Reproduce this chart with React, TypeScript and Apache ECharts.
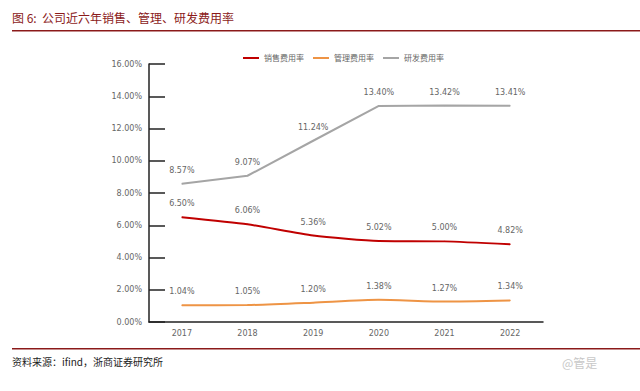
import React, { useEffect, useRef } from "react";
import * as echarts from "echarts";

const years = ["2017", "2018", "2019", "2020", "2021", "2022"];
const salesRate = [6.5, 6.06, 5.36, 5.02, 5.0, 4.82];
const mgmtRate = [1.04, 1.05, 1.2, 1.38, 1.27, 1.34];
const rdRate = [8.57, 9.07, 11.24, 13.4, 13.42, 13.41];
const seriesNames = ["销售费用率", "管理费用率", "研发费用率"];
const seriesColors = ["#C00000", "#EE9445", "#A5A5A5"];
const titleText = "图 6:  公司近六年销售、管理、研发费用率";
const sourceText = "资料来源：ifind，浙商证券研究所";

export default function App() {
  const ref = useRef<HTMLDivElement>(null);
  useEffect(() => {
    if (!ref.current) return;
    const chart = echarts.init(ref.current, null, { renderer: "svg" });
    const fontCJK = "'Noto Sans CJK SC', sans-serif";
    const mk = (i: number, data: number[], smooth: number | boolean) => ({
      name: seriesNames[i],
      type: "line",
      data,
      smooth,
      symbol: "circle",
      symbolSize: 1,
      showSymbol: true,
      lineStyle: { color: seriesColors[i], width: 2 },
      itemStyle: { color: seriesColors[i], borderWidth: 0 },
      label: {
        show: true,
        position: "top",
        distance: 9,
        color: "#666",
        fontSize: 8,
        fontFamily: "'DejaVu Sans', sans-serif",
        formatter: (p: any) => p.value.toFixed(2) + "%",
      },
    });
    chart.setOption({
      animation: false,
      backgroundColor: "#fff",
      legend: {
        top: 49,
        left: 238,
        itemWidth: 16,
        itemHeight: 2,
        itemGap: 9,
        icon: "rect",
        textStyle: { fontSize: 8, color: "#666", fontFamily: fontCJK },
        data: seriesNames,
      },
      grid: { left: 149, right: 97, top: 64, bottom: 69, containLabel: false },
      xAxis: {
        type: "category",
        data: years,
        boundaryGap: true,
        axisLine: { lineStyle: { color: "#222", width: 1.5 } },
        axisTick: { show: false },
        axisLabel: { color: "#666", fontSize: 8, margin: 7, fontFamily: "'DejaVu Sans', sans-serif" },
      },
      yAxis: {
        type: "value",
        min: 0,
        max: 16,
        interval: 2,
        axisLine: { show: true, lineStyle: { color: "#222", width: 1.5 } },
        axisTick: { show: true, inside: true, length: 16, lineStyle: { color: "#222", width: 1.5 } },
        splitLine: { show: false },
        axisLabel: {
          color: "#666",
          fontSize: 8,
          margin: 7,
          fontFamily: "'DejaVu Sans', sans-serif",
          formatter: (v: number) => v.toFixed(2) + "%",
        },
      },
      graphic: [
        {
          type: "text",
          left: 12,
          top: 11,
          style: { text: titleText, fill: "#8B1A1A", fontSize: 12, fontFamily: fontCJK },
        },
        {
          type: "rect",
          shape: { x: 12, y: 30, width: 628, height: 1.5 },
          style: { fill: "#8B1A1A" },
        },
        {
          type: "rect",
          shape: { x: 12, y: 348, width: 628, height: 1.5 },
          style: { fill: "#8B1A1A" },
        },
        {
          type: "text",
          left: 12,
          top: 356,
          style: { text: sourceText, fill: "#222", fontSize: 10, fontFamily: fontCJK },
        },
        {
          type: "text",
          left: 562,
          top: 356,
          style: { text: "@管是", fill: "#c8c8c8", fontSize: 12, fontFamily: fontCJK },
        },
      ],
      series: [mk(0, salesRate, 0.2), mk(1, mgmtRate, 0.2), mk(2, rdRate, false)],
    });
    return () => chart.dispose();
  }, []);
  return (
    <div
      ref={ref}
      style={{ position: "fixed", left: 0, top: 0, width: 640, height: 391 }}
    />
  );
}
